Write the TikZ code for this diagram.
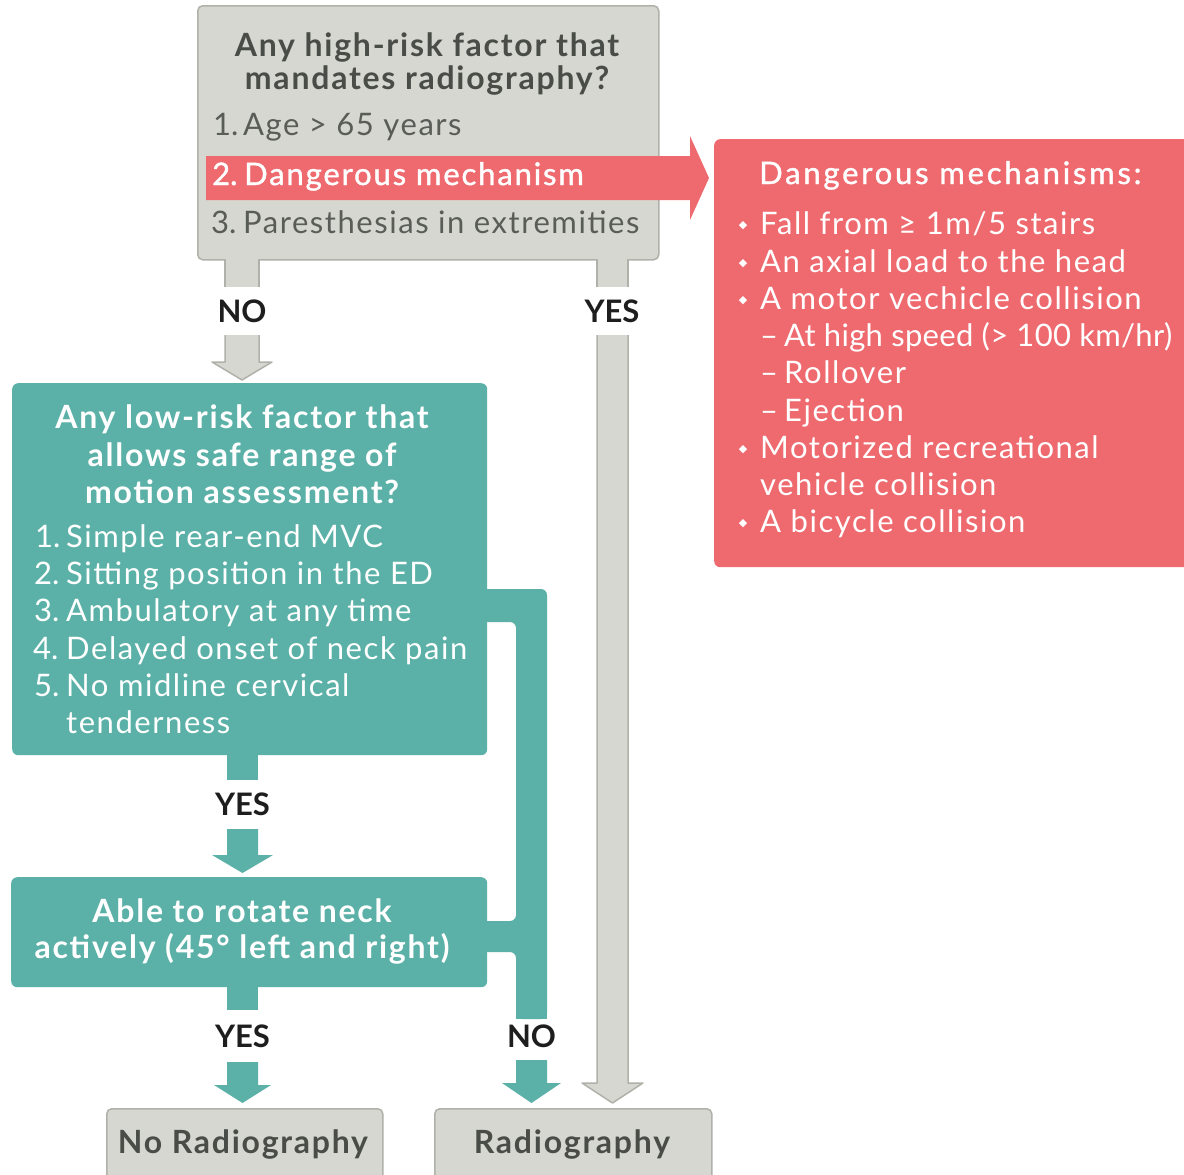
\documentclass[tikz,border=0pt]{standalone}
\usepackage{fontspec}
\setmainfont{Lato}
\newfontfamily\symfont{DejaVu Sans}
\newfontfamily\regfont{Lato}[LetterSpace=5]
\newfontfamily\tightfont{Lato}[LetterSpace=1]
\newfontfamily\bldfont{Lato}[LetterSpace=5.5]
\newfontfamily\medfont{Lato}[FakeBold=1.2, LetterSpace=6]
\newfontfamily\medwfont{Lato}[FakeBold=1.2, LetterSpace=9]
\newfontfamily\numfont{Lato}[FakeBold=1.2]
\usetikzlibrary{calc}
\definecolor{grayfill}{HTML}{D5D7D0}
\definecolor{grayline}{HTML}{B0B2AA}
\definecolor{graytitle}{HTML}{4A4C47}
\definecolor{graytext}{HTML}{5A5C57}
\definecolor{tealc}{HTML}{5BB1A7}
\definecolor{redc}{HTML}{EE6A6F}
\definecolor{labelc}{HTML}{1E1E1E}
\begin{document}
\begin{tikzpicture}[x=1pt,y=-1pt,
  graybox/.style={draw=grayline, line width=1.5pt, fill=grayfill, rounded corners=5pt, inner sep=0pt, anchor=north west},
  tealbox/.style={fill=tealc, rounded corners=6pt, inner sep=0pt, anchor=north west},
  redbox/.style={fill=redc, rounded corners=6pt, inner sep=0pt, anchor=north west},
  grayedge/.style={draw=grayline, line width=1.5pt},
  lbl/.style={font=\bfseries\fontsize{31}{31}\selectfont, text=labelc, inner sep=0pt, anchor=base},
  gtitle/.style={font=\bldfont\bfseries\fontsize{32}{32}\selectfont, text=graytitle, inner sep=0pt, anchor=base},
  gitem/.style={font=\regfont\fontsize{31}{31}\selectfont, text=graytext, inner sep=0pt, anchor=base west},
  gnum/.style={font=\fontsize{31}{31}\selectfont, text=graytext, inner sep=0pt, anchor=base west},
  ttitle/.style={font=\bldfont\bfseries\fontsize{32}{32}\selectfont, text=white, inner sep=0pt, anchor=base},
  titem/.style={font=\regfont\fontsize{31}{31}\selectfont, text=white, inner sep=0pt, anchor=base west},
  tnum/.style={font=\fontsize{31}{31}\selectfont, text=white, inner sep=0pt, anchor=base west},
  ritem/.style={font=\regfont\fontsize{31}{31}\selectfont, text=white, inner sep=0pt, anchor=base west},
  bul/.style={font=\symfont\fontsize{11}{11}\selectfont, text=white, inner sep=0pt, anchor=center},
  endtitle/.style={font=\bldfont\bfseries\fontsize{32}{32}\selectfont, text=graytitle, inner sep=0pt, anchor=base}
]
\useasboundingbox (0,0) rectangle (1184,1175);
\clip (0,0) rectangle (1184,1175);
\fill[white] (0,0) rectangle (1184,1175);

% ---------- boxes ----------
\node[graybox, minimum width=461pt, minimum height=254pt] (top) at (197,5) {};
\node[redbox, minimum width=490pt, minimum height=428pt] (dang) at (714,139) {};
\node[tealbox, minimum width=475pt, minimum height=372pt] (low) at (12,383) {};
\node[tealbox, minimum width=476pt, minimum height=110pt] (rot) at (11,877) {};
\node[graybox, minimum width=276pt, minimum height=100pt] (norad) at (106,1108) {};
\node[graybox, minimum width=277pt, minimum height=100pt] (rad) at (434,1108) {};

% ---------- red arrow: dangerous mechanism -> list ----------
\coordinate (redtip) at (709,178);
\fill[redc] (206,156) -- (690,156) -- (690,136) -- (redtip) -- (690,220) -- (690,200) -- (206,200) -- cycle;

% ---------- top box: NO leg and arrow ----------
\fill[grayfill] (225,256) rectangle (259,287);
\draw[grayedge] (225,259) -- (225,287) (259,259) -- (259,287);
\coordinate (noTip) at (242,380);
\fill[grayfill] (225,335) -- (225,362) -- (212,362) -- (noTip) -- (272,362) -- (259,362) -- (259,335) -- cycle;
\draw[grayedge, line join=round] (225,335) -- (225,362) -- (212,362) -- (noTip) -- (272,362) -- (259,362) -- (259,335);
\node[lbl] (lno1) at (242,322) {NO};

% ---------- top box: YES leg and long arrow ----------
\fill[grayfill] (597,256) rectangle (628,287);
\draw[grayedge] (597,259) -- (597,287) (628,259) -- (628,287);
\coordinate (yesTip) at (612.5,1103);
\fill[grayfill] (597,335) -- (597,1083) -- (582,1083) -- (yesTip) -- (643,1083) -- (628,1083) -- (628,335) -- cycle;
\draw[grayedge, line join=round] (597,335) -- (597,1083) -- (582,1083) -- (yesTip) -- (643,1083) -- (628,1083) -- (628,335);
\node[lbl] (lyes1) at (612,322) {YES};

% ---------- teal YES 1 ----------
\fill[tealc] (227,750) rectangle (258,780);
\node[lbl] (lyes2) at (242.5,815) {YES};
\coordinate (y2Tip) at (242.5,873);
\fill[tealc] (227,829) -- (227,855) -- (212,855) -- (y2Tip) -- (273,855) -- (258,855) -- (258,829) -- cycle;

% ---------- teal YES 2 ----------
\fill[tealc] (227,980) rectangle (258,1010);
\node[lbl] (lyes3) at (242.5,1047) {YES};
\coordinate (y3Tip) at (242.5,1103);
\fill[tealc] (227,1062) -- (227,1085) -- (214,1085) -- (y3Tip) -- (271,1085) -- (258,1085) -- (258,1062) -- cycle;

% ---------- teal NO connector ----------
\fill[tealc, rounded corners=6pt] (478,589) -- (547,589) -- (547,1019) -- (516,1019) -- (516,952) -- (478,952) -- (478,921) -- (516,921) -- (516,622) -- (478,622) -- cycle;
\fill[tealc] (516,1005) rectangle (547,1019);
\node[lbl] (lno2) at (531.5,1047) {NO};
\coordinate (n2Tip) at (531.5,1103);
\fill[tealc] (516,1060) -- (516,1083) -- (502,1083) -- (n2Tip) -- (561,1083) -- (547,1083) -- (547,1060) -- cycle;

% ---------- top box text ----------
\node[gtitle] (t1) at (427,56) {Any high-risk factor that};
\node[gtitle] (t2) at (427,89) {mandates radiography?};
\node[gnum] (g1n) at (213,135) {1.};
\node[gitem] (g1) at (243,135) {Age > 65 years};
\node[gnum, text=white, font=\numfont\fontsize{31}{31}\selectfont] (g2n) at (212,185) {2.};
\node[gitem, text=white, font=\medfont\fontsize{31}{31}\selectfont] (g2) at (244,185) {Dangerous mechanism};
\node[gnum] (g3n) at (211,233) {3.};
\node[gitem] (g3) at (243,233) {Paresthesias in extremities};

% ---------- low-risk box text ----------
\node[ttitle] (l1) at (242,428) {Any low-risk factor that};
\node[ttitle] (l2) at (242,466) {allows safe range of};
\node[ttitle] (l3) at (242,503) {motion assessment?};
\node[tnum] (i1n) at (35,547) {1.};
\node[titem] (i1) at (66,547) {Simple rear-end MVC};
\node[tnum] (i2n) at (34,584) {2.};
\node[titem] (i2) at (66,584) {Sitting position in the ED};
\node[tnum] (i3n) at (34,621) {3.};
\node[titem] (i3) at (66,621) {Ambulatory at any time};
\node[tnum] (i4n) at (33,659) {4.};
\node[titem] (i4) at (66,659) {Delayed onset of neck pain};
\node[tnum] (i5n) at (34,696) {5.};
\node[titem] (i5) at (66,696) {No midline cervical};
\node[titem] (i5b) at (66,733) {tenderness};

% ---------- rotate box text ----------
\node[ttitle] (r1) at (242,922) {Able to rotate neck};
\node[ttitle] (r2) at (242,958) {actively (45° left and right)};

% ---------- end boxes text ----------
\node[endtitle] (e1) at (243,1153) {No Radiography};
\node[endtitle] (e2) at (572,1153) {Radiography};

% ---------- dangerous mechanisms list ----------
\node[ritem, font=\medwfont\fontsize{31}{31}\selectfont] (d0) at (759,184) {Dangerous mechanisms:};
\node[bul] (b1) at (743,226) {◆};
\node[ritem] (d1) at (760,234) {Fall from ≥ 1m/5 stairs};
\node[bul] (b2) at (743,264) {◆};
\node[ritem] (d2) at (760,272) {An axial load to the head};
\node[bul] (b3) at (743,301) {◆};
\node[ritem] (d3) at (760,309) {A motor vechicle collision};
\node[ritem] (d4n) at (760,346) {–};
\node[ritem, font=\tightfont\fontsize{31}{31}\selectfont] (d4) at (784,346) {At high speed (> 100 km/hr)};
\node[ritem] (d5n) at (760,383) {–};
\node[ritem] (d5) at (784,383) {Rollover};
\node[ritem] (d6n) at (760,421) {–};
\node[ritem] (d6) at (784,421) {Ejection};
\node[bul] (b4) at (743,450) {◆};
\node[ritem] (d7) at (760,458) {Motorized recreational};
\node[ritem] (d8) at (760,495) {vehicle collision};
\node[bul] (b5) at (743,524) {◆};
\node[ritem] (d9) at (760,532) {A bicycle collision};
\end{tikzpicture}
\end{document}
